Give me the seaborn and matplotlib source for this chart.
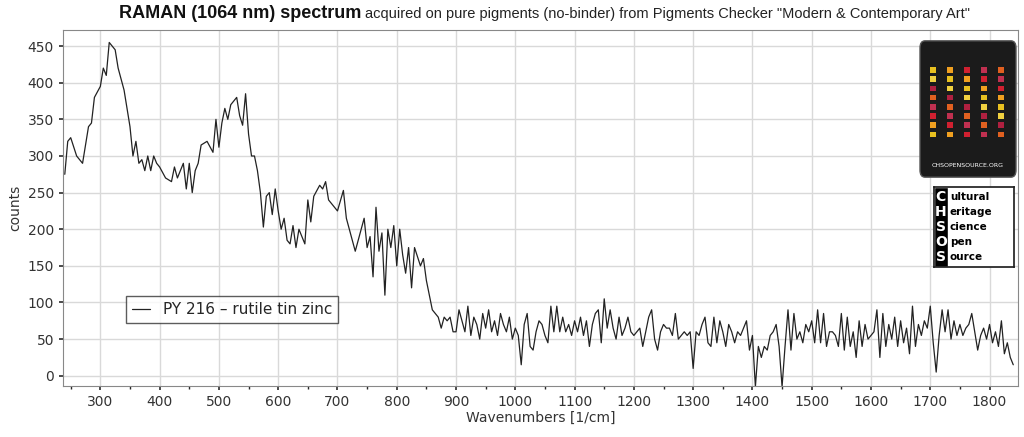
import numpy as np
import pandas as pd
import seaborn as sns
import matplotlib.pyplot as plt
from matplotlib.patches import FancyBboxPatch, Rectangle

sns.set_theme(style="whitegrid")
plt.rcParams['font.family'] = ['DejaVu Sans']

wn_low = [240,245,250,260,270,280,285,290,300,305,310,315,320,325,330,340,350,355,360,365,370,375,380,385,390,395,400,410,420,425,430,440,445,450,455,460,465,470,480,490,495,500,505,510,515,520,530,535,540,545,550,555,560,565,570,575,580,585,590,595,600,605,610,615,620,625,630,635,640,645,650,655,660,670,675,680,685,690,700,710,715,720,730,740,745,750,755,760,765,770,775,780,785,790,795,800,805,810,815,820,825,830,840,845,850,860,870,875,880,885,890,895]
ct_low = [275,320,325,300,290,340,345,380,395,420,410,455,450,445,420,390,340,300,320,290,295,280,300,280,300,290,285,270,265,285,270,290,255,290,250,280,290,315,320,305,350,312,345,365,350,370,380,355,342,385,330,300,300,280,250,203,245,250,220,255,225,200,215,185,180,205,175,200,190,180,240,210,245,260,255,265,240,235,225,253,215,200,170,200,215,175,190,135,230,170,195,110,200,175,205,150,200,165,140,175,120,175,150,160,130,90,80,65,80,75,80,60]
ct_high = [60,90,75,60,95,55,80,70,50,85,65,90,60,75,55,85,70,60,80,50,65,
           55,15,70,85,40,35,60,75,70,55,45,95,60,95,60,80,60,70,55,75,60,80,55,75,40,70,85,90,45,105,
           65,90,65,50,80,55,65,80,60,55,60,65,40,60,80,90,50,35,60,70,65,65,55,85,50,55,60,55,60,10,
           60,55,70,80,45,40,80,45,75,60,40,70,60,45,60,55,65,75,35,55,-15,40,25,40,35,55,60,70,40,-15,
           40,90,35,85,50,60,45,70,60,75,45,90,45,85,40,60,60,55,40,85,35,80,40,60,25,75,40,70,50,55,
           60,90,25,85,40,70,50,80,40,75,45,65,30,95,40,70,55,75,65,95,45,5,55,90,60,90,50,75,55,70,
           55,65,70,85,60,35,55,65,50,70,45,60,40,75,30,45,25,15]
wn_high = list(range(900, 900 + 5 * len(ct_high), 5))

df = pd.DataFrame({"wn": wn_low + wn_high, "counts": ct_low + ct_high})

fig = plt.figure(figsize=(10.24, 4.37), dpi=100)
ax = fig.add_axes([63/1024, 1-386/437, 955/1024, 356/437])
sns.lineplot(data=df, x="wn", y="counts", ax=ax, color="#222222", linewidth=0.9,
             label="PY 216 \u2013 rutile tin zinc")
ax.set_xlim(237, 1848)
ax.set_ylim(-14, 472)
ax.set_xticks(range(300, 1801, 100))
ax.set_yticks(range(0, 451, 50))
ax.set_xticks(range(250, 1850, 50), minor=True)
ax.grid(True, which="major", color="#d9d9d9", linewidth=1)
ax.tick_params(axis="both", labelsize=10, colors="#333333", length=3, bottom=True, left=True)
ax.tick_params(axis="x", which="minor", length=2, bottom=True)
for s in ax.spines.values():
    s.set_color("#888888")
    s.set_linewidth(0.8)
ax.set_xlabel("Wavenumbers [1/cm]", fontsize=10, color="#333333", labelpad=1)
ax.set_ylabel("counts", fontsize=10, color="#333333")
leg = ax.legend(loc="lower left", bbox_to_anchor=(0.058, 0.155), fontsize=11,
                frameon=True, fancybox=False, edgecolor="#333333", handlelength=1.2,
                borderpad=0.4)
leg.get_frame().set_linewidth(1)

narrow = ['Liberation Sans Narrow', 'Liberation Sans', 'DejaVu Sans']
fig.text(361/1024, 1-13/437, "RAMAN (1064 nm) spectrum", ha="right", va="center",
         fontsize=13, fontweight="bold", color="#111111", family=narrow)
fig.text(365/1024, 1-14/437, "acquired on pure pigments (no-binder) from Pigments Checker \"Modern & Contemporary Art\"",
         ha="left", va="center", fontsize=10.5, color="#222222", family=narrow)

# pigment card inset
cax = fig.add_axes([918/1024, 1-180/437, 100/1024, 142/437])
cax.set_xlim(0, 1); cax.set_ylim(0, 1); cax.axis("off")
cax.add_patch(FancyBboxPatch((0.02, 0.02), 0.96, 0.96, boxstyle="round,pad=0,rounding_size=0.05",
                             facecolor="#1b1b1b", edgecolor="#555555"))
cols = ["#e8c020", "#f0a020", "#d02030", "#c03050", "#e06020", "#b02040", "#f0d040"]
for i in range(8):
    for j in range(5):
        cax.add_patch(Rectangle((0.12 + j * 0.17, 0.3 + i * 0.065), 0.06, 0.04,
                                facecolor=cols[(i + j) % len(cols)], edgecolor="none"))
cax.text(0.5, 0.1, "CHSOPENSOURCE.ORG", ha="center", va="center", fontsize=4.5, color="white")

# CHSOS logo
lax = fig.add_axes([934/1024, 1-267/437, 80/1024, 80/437])
lax.set_xlim(0, 1); lax.set_ylim(0, 1)
lax.set_xticks([]); lax.set_yticks([])
for s in lax.spines.values():
    s.set_color("#222222")
lax.add_patch(Rectangle((0.0, 0.0), 0.17, 1, facecolor="black"))
words = [("C", "ultural"), ("H", "eritage"), ("S", "cience"), ("O", "pen"), ("S", "ource")]
for k, (a, b) in enumerate(words):
    y = 0.88 - k * 0.19
    lax.text(0.085, y, a, ha="center", va="center", color="white", fontsize=10, fontweight="bold")
    lax.text(0.2, y, b, ha="left", va="center", color="black", fontsize=7.5, fontweight="bold")

fig.savefig("out.png", dpi=100)
